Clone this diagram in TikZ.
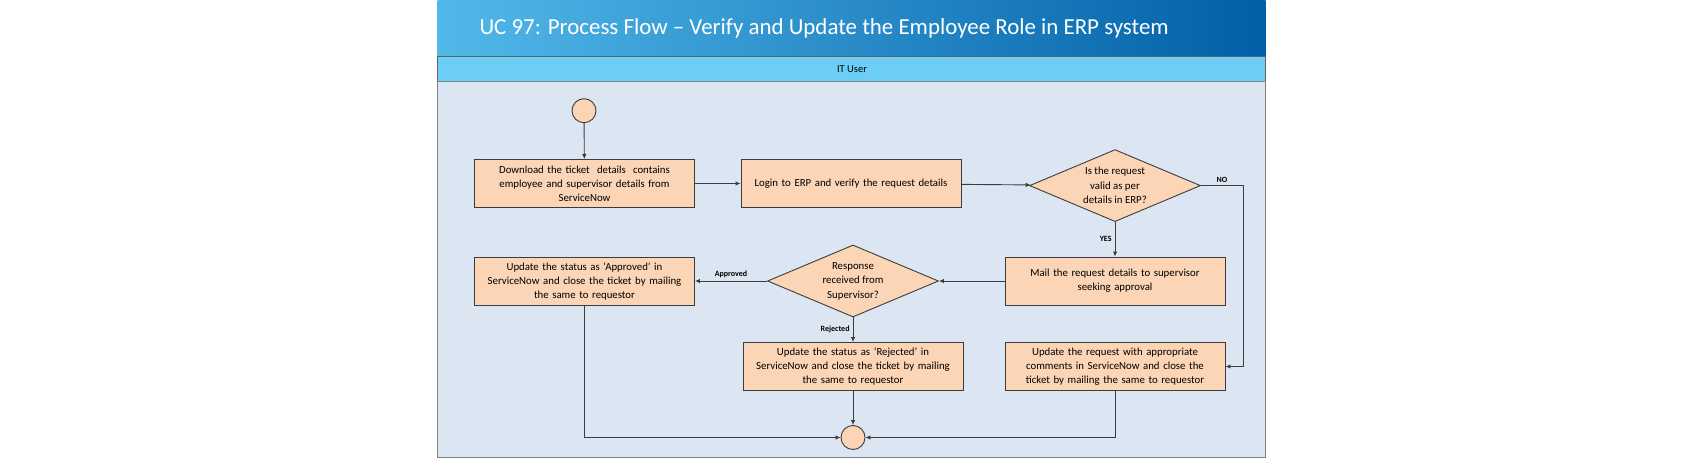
\documentclass[tikz,border=0pt]{standalone}
\usepackage{fontspec}
\setmainfont{Carlito}
\usetikzlibrary{shapes.geometric,arrows.meta}
\definecolor{titleL}{RGB}{82,184,233}
\definecolor{titleR}{RGB}{0,96,168}
\definecolor{laneHead}{RGB}{108,206,244}
\definecolor{laneBody}{RGB}{220,230,242}
\definecolor{peach}{RGB}{251,213,181}
\definecolor{edge}{RGB}{60,60,60}
\tikzset{
  box/.style={draw=edge, fill=peach, line width=0.9pt, minimum width=220pt, minimum height=48pt,
    text width=218pt, align=center, inner sep=0pt, font=\fontsize{10.8}{14}\selectfont},
  decision/.style={diamond, draw=edge, fill=peach, line width=0.9pt, aspect=2.4,
    minimum width=171pt, minimum height=72pt, inner sep=0pt, align=center,
    font=\fontsize{10.8}{14.5}\selectfont},
  terminal/.style={circle, draw=edge, fill=peach, line width=0.9pt, minimum size=24pt, inner sep=0pt},
  lbl/.style={font=\fontsize{8}{9}\selectfont\bfseries, inner sep=3pt},
  flow/.style={draw=edge, line width=0.9pt, -{Latex[length=5pt,width=4.5pt]}}
}
\begin{document}
\begin{tikzpicture}[x=1pt,y=-1pt]
\useasboundingbox (0,0) rectangle (1702,460);
\shade[left color=titleL, right color=titleR] (437.5,0) rectangle (1265.7,56.4);
\draw[fill=laneHead, draw=edge!80, line width=0.8pt] (437.5,56.4) rectangle (1265.7,81.4);
\draw[fill=laneBody, draw=gray, line width=1pt] (437.5,81.4) rectangle (1265.7,457);
\node[anchor=west, text=white, font=\fontsize{22.9}{27}\selectfont] (ttl) at (476,28)
  {UC 97: Process Flow – Verify and Update the Employee Role in ERP system};
\node[font=\fontsize{10.5}{12}\selectfont] (lane) at (852,69) {IT User};

\node[terminal] (start) at (584,110.7) {};
\node[box] (dl) at (584.5,183.5) {Download the ticket\ \ details\ \ contains\\employee and supervisor details from\\ServiceNow};
\node[box] (login) at (851,183.5) {Login to ERP and verify the request details};
\node[decision] (valid) at (1115,185.6) {Is the request\\valid as per\\details in ERP?};
\node[box] (mail) at (1115,281) {Mail the request details to supervisor\\seeking approval};
\node[decision] (resp) at (853,281) {Response\\received from\\Supervisor?};
\node[box] (appr) at (584.5,281) {Update the status as ‘Approved’ in\\ServiceNow and close the ticket by mailing\\the same to requestor};
\node[box] (rej) at (853,366.5) {Update the status as ‘Rejected’ in\\ServiceNow and close the ticket by mailing\\the same to requestor};
\node[box] (cmt) at (1115,366.5) {Update the request with appropriate\\comments in ServiceNow and close the\\ticket by mailing the same to requestor};
\node[terminal] (end) at (853,437.5) {};
\coordinate (noturn) at (1243,185.6);

\draw[flow] (start) -- (dl);
\draw[flow] (dl) -- (login);
\draw[flow] (login) -- (valid);
\draw[flow] (valid) -- node[lbl, left] {YES} (mail);
\draw[flow] (valid.east) -- node[lbl, above] {NO} (noturn) |- (cmt.east);
\draw[flow] (mail) -- (resp);
\draw[flow] (resp) -- node[lbl, above] {Approved} (appr);
\draw[flow] (resp) -- node[lbl, left] {Rejected} (rej);
\draw[flow] (appr) |- (end);
\draw[flow] (rej) -- (end);
\draw[flow] (cmt) |- (end);
\end{tikzpicture}
\end{document}
